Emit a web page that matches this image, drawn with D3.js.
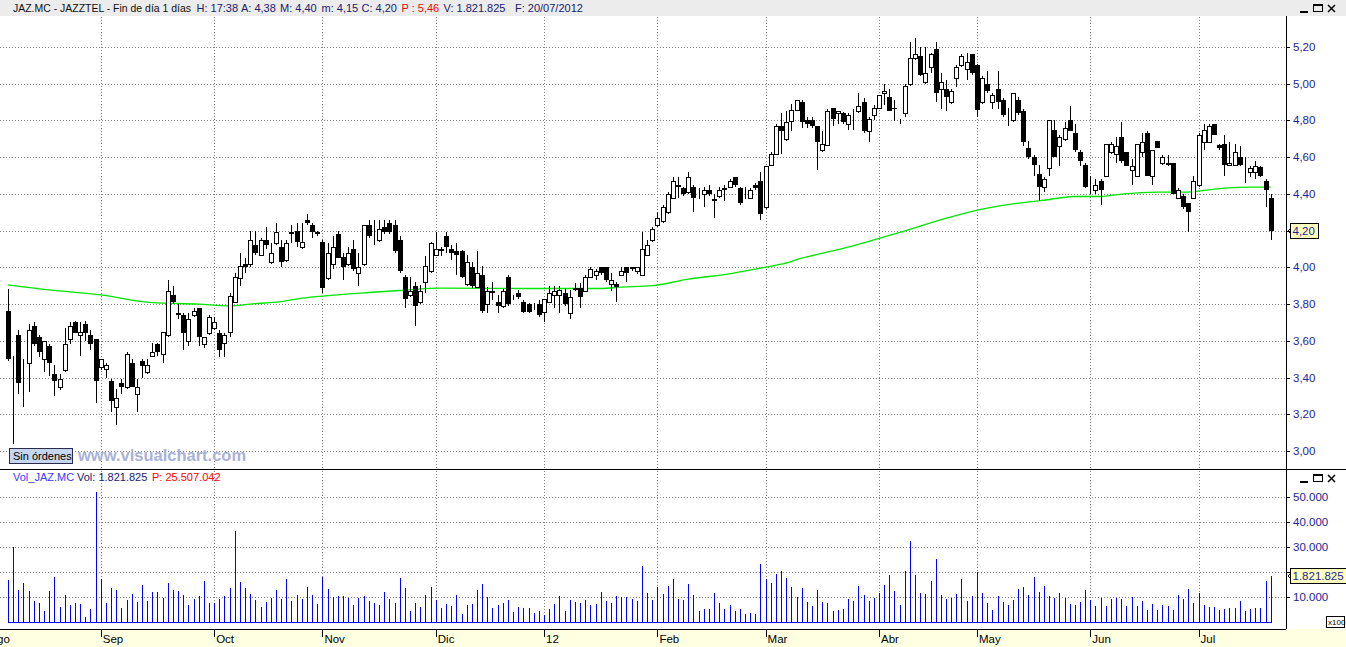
<!DOCTYPE html>
<html>
<head>
<meta charset="utf-8">
<script src="https://cdn.jsdelivr.net/npm/d3@7"></script>
<style>
  body { margin: 0; background: #fff; overflow: hidden; }
  svg { display: block; font-family: "Liberation Sans", Arial, sans-serif; }
</style>
</head>
<body>
<svg id="chart"></svg>
<script>
var svgWidth = 1346;
var svgHeight = 647;

// ---------- data ----------
var opens = [
  3.76,3.50,3.63,3.43,3.48,3.68,3.62,3.50,3.57,3.42,
  3.35,3.44,3.61,3.70,3.63,3.69,3.63,3.61,3.46,3.445,
  3.38,3.24,3.37,3.35,3.48,3.31,3.49,3.43,3.52,3.58,
  3.53,3.63,3.85,3.75,3.74,3.60,3.74,3.78,3.58,3.64,
  3.67,3.64,3.59,3.65,3.81,3.94,4.02,4.02,4.12,4.07,
  4.15,4.03,4.13,4.11,4.04,4.19,4.20,4.11,4.26,4.23,
  4.19,4.14,3.94,4.02,4.18,4.055,4.02,4.10,3.97,4.02,
  4.23,4.15,4.15,4.22,4.24,4.23,4.15,3.95,3.85,3.90,
  3.81,3.92,3.98,4.07,4.10,4.17,4.10,4.09,4.09,3.91,
  4.00,3.895,3.96,3.80,3.87,3.81,3.79,3.95,3.84,3.86,
  3.81,3.80,3.78,3.80,3.755,3.81,3.85,3.85,3.86,3.75,
  3.89,3.89,3.87,3.945,3.96,4.00,4.00,3.91,3.91,3.96,
  4.00,4.00,3.98,3.96,4.07,4.15,4.23,4.25,4.30,4.38,
  4.45,4.43,4.41,4.44,4.40,4.40,4.42,4.37,4.39,4.43,
  4.44,4.49,4.43,4.38,4.38,4.45,4.47,4.33,4.56,4.62,
  4.77,4.70,4.795,4.855,4.90,4.80,4.80,4.77,4.64,4.665,
  4.87,4.84,4.84,4.78,4.845,4.85,4.90,4.74,4.83,4.87,
  4.95,4.93,4.87,4.80,4.84,5.00,5.14,5.15,5.01,5.09,
  5.19,4.97,4.97,4.90,5.03,5.10,5.08,5.16,5.10,4.90,
  5.00,4.90,4.97,4.91,4.855,4.80,4.91,4.85,4.65,4.60,
  4.51,4.44,4.54,4.75,4.66,4.70,4.80,4.73,4.63,4.56,
  4.47,4.42,4.47,4.495,4.63,4.62,4.71,4.63,4.53,4.50,
  4.63,4.73,4.50,4.69,4.57,4.57,4.57,4.38,4.39,4.35,
  4.38,4.45,4.68,4.685,4.78,4.665,4.67,4.56,4.56,4.60,
  4.56,4.52,4.52,4.545,4.47,4.38
];
var highs = [
  3.88,3.52,3.66,3.50,3.69,3.70,3.63,3.60,3.58,3.47,
  3.42,3.67,3.70,3.71,3.70,3.71,3.66,3.61,3.50,3.48,
  3.39,3.34,3.39,3.54,3.50,3.39,3.50,3.50,3.59,3.59,
  3.65,3.93,3.90,3.80,3.75,3.75,3.78,3.78,3.62,3.74,
  3.73,3.66,3.64,3.86,3.97,4.08,4.05,4.20,4.20,4.16,
  4.22,4.13,4.24,4.15,4.15,4.23,4.24,4.24,4.29,4.24,
  4.20,4.15,4.13,4.17,4.20,4.08,4.11,4.15,4.08,4.23,
  4.26,4.26,4.26,4.26,4.26,4.26,4.17,3.96,3.95,3.92,
  3.905,4.06,4.14,4.19,4.11,4.19,4.12,4.13,4.095,4.07,
  4.03,4.09,4.01,3.895,3.92,3.85,3.88,3.96,3.85,3.875,
  3.82,3.805,3.805,3.82,3.83,3.90,3.90,3.90,3.89,3.875,
  3.915,3.915,3.96,4.00,3.99,4.00,4.00,3.97,3.92,4.00,
  4.00,4.00,4.00,4.19,4.15,4.22,4.30,4.34,4.41,4.49,
  4.49,4.44,4.52,4.45,4.43,4.44,4.45,4.40,4.44,4.45,
  4.48,4.49,4.44,4.44,4.43,4.46,4.52,4.55,4.63,4.78,
  4.84,4.85,4.89,4.91,4.91,4.82,4.82,4.77,4.74,4.86,
  4.87,4.85,4.845,4.84,4.86,4.95,4.92,4.82,4.885,4.94,
  5.00,4.97,4.91,4.81,5.00,5.225,5.25,5.20,5.20,5.17,
  5.225,5.06,5.02,4.97,5.10,5.16,5.17,5.16,5.11,5.04,
  5.07,4.95,5.07,4.92,4.87,4.95,4.93,4.86,4.69,4.61,
  4.555,4.49,4.80,4.80,4.72,4.79,4.88,4.78,4.64,4.57,
  4.50,4.48,4.48,4.67,4.685,4.71,4.79,4.63,4.59,4.67,
  4.73,4.745,4.64,4.69,4.61,4.61,4.57,4.43,4.40,4.35,
  4.495,4.73,4.78,4.78,4.78,4.67,4.72,4.68,4.67,4.66,
  4.60,4.55,4.58,4.55,4.48,4.40
];
var lows = [
  3.49,3.04,3.31,3.24,3.32,3.57,3.51,3.43,3.41,3.30,
  3.33,3.43,3.58,3.64,3.52,3.60,3.55,3.26,3.44,3.40,
  3.21,3.14,3.31,3.34,3.35,3.21,3.40,3.42,3.51,3.52,
  3.48,3.62,3.80,3.72,3.55,3.57,3.73,3.57,3.56,3.63,
  3.66,3.51,3.51,3.62,3.81,3.90,3.97,4.00,4.07,4.06,
  4.10,4.02,4.12,4.00,4.03,4.13,4.11,4.10,4.23,4.16,
  4.17,3.86,3.93,3.99,4.05,3.93,4.01,3.98,3.90,4.01,
  4.16,4.12,4.14,4.18,4.18,4.08,3.97,3.78,3.84,3.68,
  3.80,3.86,3.97,4.06,4.06,4.08,4.04,3.96,3.94,3.90,
  3.89,3.89,3.75,3.75,3.82,3.75,3.78,3.79,3.82,3.83,
  3.75,3.75,3.77,3.73,3.705,3.805,3.78,3.75,3.79,3.72,
  3.87,3.78,3.87,3.94,3.93,3.96,3.92,3.87,3.81,3.955,
  3.92,3.98,3.965,3.955,4.06,4.14,4.22,4.24,4.29,4.37,
  4.38,4.39,4.40,4.30,4.37,4.33,4.39,4.27,4.38,4.36,
  4.43,4.44,4.34,4.37,4.37,4.42,4.26,4.32,4.55,4.61,
  4.62,4.69,4.745,4.85,4.76,4.76,4.76,4.53,4.63,4.66,
  4.77,4.78,4.78,4.75,4.75,4.84,4.73,4.68,4.80,4.86,
  4.885,4.85,4.795,4.78,4.82,4.985,5.13,5.04,5.00,5.06,
  4.90,4.86,4.85,4.89,4.98,5.09,5.02,5.05,4.82,4.89,
  4.95,4.86,4.86,4.82,4.77,4.79,4.83,4.66,4.59,4.50,
  4.36,4.41,4.495,4.60,4.55,4.69,4.74,4.63,4.55,4.43,
  4.40,4.40,4.34,4.49,4.62,4.57,4.57,4.55,4.45,4.49,
  4.60,4.50,4.45,4.65,4.56,4.55,4.40,4.37,4.32,4.195,
  4.37,4.44,4.64,4.68,4.72,4.64,4.50,4.55,4.55,4.55,
  4.46,4.49,4.48,4.49,4.33,4.15
];
var closes = [
  3.50,3.50,3.37,3.43,3.66,3.58,3.54,3.60,3.48,3.38,
  3.39,3.58,3.68,3.645,3.65,3.64,3.58,3.38,3.50,3.47,
  3.27,3.29,3.35,3.53,3.35,3.35,3.465,3.47,3.54,3.54,
  3.65,3.87,3.81,3.74,3.64,3.72,3.76,3.62,3.62,3.73,
  3.70,3.55,3.63,3.845,3.95,4.01,4.00,4.15,4.08,4.15,
  4.12,4.08,4.19,4.03,4.13,4.18,4.14,4.14,4.24,4.19,
  4.18,3.89,4.08,4.11,4.05,4.00,4.08,3.99,4.00,4.23,
  4.17,4.15,4.21,4.19,4.19,4.09,3.98,3.83,3.87,3.79,
  3.87,4.01,4.13,4.10,4.09,4.11,4.08,4.07,3.95,4.03,
  3.90,3.97,3.765,3.87,3.86,3.79,3.87,3.80,3.84,3.84,
  3.755,3.755,3.78,3.74,3.83,3.86,3.87,3.875,3.80,3.84,
  3.875,3.84,3.95,3.99,3.98,3.97,3.93,3.93,3.895,3.98,
  3.97,3.99,4.00,4.10,4.12,4.21,4.27,4.33,4.40,4.47,
  4.44,4.40,4.49,4.38,4.40,4.42,4.40,4.36,4.42,4.42,
  4.47,4.45,4.35,4.38,4.42,4.43,4.29,4.55,4.62,4.77,
  4.74,4.79,4.855,4.91,4.79,4.78,4.77,4.68,4.67,4.85,
  4.81,4.85,4.79,4.83,4.845,4.88,4.74,4.81,4.87,4.94,
  4.96,4.85,4.865,4.80,4.99,5.14,5.16,5.045,5.06,5.16,
  4.95,5.01,4.93,4.96,5.09,5.15,5.12,5.06,4.855,5.03,
  4.96,4.94,4.90,4.83,4.855,4.95,4.84,4.68,4.60,4.555,
  4.44,4.48,4.80,4.60,4.71,4.76,4.745,4.64,4.58,4.44,
  4.47,4.45,4.42,4.67,4.67,4.66,4.58,4.55,4.55,4.67,
  4.68,4.50,4.64,4.65,4.60,4.56,4.40,4.42,4.33,4.30,
  4.47,4.72,4.75,4.77,4.72,4.65,4.56,4.57,4.63,4.56,
  4.56,4.54,4.55,4.495,4.42,4.20
];
// volume in axis units (x100)
var volumes = [
  16900,29900,12900,15600,12500,8500,7600,4500,12500,18100,
  6100,10800,6900,7600,7300,2100,5300,52100,17300,7600,
  13600,12900,5700,8900,11300,8100,14900,8500,12100,12100,
  9700,15600,12900,12500,10900,6800,9300,10300,16500,7600,
  7600,9200,10500,13600,36500,16100,13600,11300,8900,6100,
  8000,9700,12900,9300,17300,8500,10800,9300,14100,10800,
  7300,18000,13300,10000,10400,10400,9700,6900,9600,10400,
  8500,7700,6900,12100,9300,7700,17700,13700,4500,7600,
  6100,10900,14100,8900,5700,7300,6500,10900,3300,6900,
  7300,12900,15300,10000,5700,6900,7700,8900,4100,6100,
  5700,5700,3700,4500,2900,5300,7300,10500,4500,8900,
  8100,7700,8900,6900,7300,12100,8500,7700,10500,10000,
  10000,9300,8500,22500,11700,8900,14100,11300,14500,17100,
  9300,8900,15300,10900,4400,5200,5200,11700,7700,5200,
  6800,4400,5200,3200,3600,3200,23400,17300,15700,19300,
  20500,17700,14100,10100,13700,8100,6400,12900,8100,7700,
  4400,4800,5200,9300,8500,14500,10900,8500,9700,11700,
  14900,18900,12500,6800,20500,32600,18900,11700,11300,16500,
  25400,10900,9300,9700,11300,17300,8500,10500,20100,11700,
  7700,4800,10500,8100,6800,8900,13300,14100,10900,18100,
  12100,14500,10500,9700,11700,9700,7300,6800,8100,12900,
  8900,6400,9700,6400,9300,9700,9300,6400,10100,6400,
  8500,4800,7300,4800,6800,6400,4800,10900,9300,13300,
  7700,11700,6800,6000,6000,4800,5200,5600,5600,8500,
  4400,5200,5600,5600,16500,18218
];
// green moving average, read at a few bars
var maIndex = [0, 8, 18, 28, 37, 43, 47, 53, 57, 62, 70, 76, 84, 99, 115, 119, 125,
  132, 140, 146, 150, 154, 163, 173, 183, 190, 197, 200, 207, 212, 216, 223, 229, 233, 236, 241, 245];
var maValue = [3.905, 3.877, 3.850, 3.808, 3.800, 3.790, 3.800, 3.814, 3.832, 3.846, 3.863, 3.874, 3.887, 3.885, 3.885, 3.892, 3.900,
  3.936, 3.965, 3.996, 4.017, 4.050, 4.110, 4.190, 4.275, 4.322, 4.353, 4.362, 4.386, 4.386, 4.399, 4.410, 4.410, 4.422, 4.432, 4.437, 4.437];

var monthLabels = ["Ago", "Sep", "Oct", "Nov", "Dic", "12", "Feb", "Mar", "Abr", "May", "Jun", "Jul"];
var monthStart = [-4, 18, 40, 61, 83, 104, 126, 147, 169, 188, 210, 231];
var priceTicks = [3.0, 3.2, 3.4, 3.6, 3.8, 4.0, 4.2, 4.4, 4.6, 4.8, 5.0, 5.2];
var volTicks = [10000, 20000, 30000, 40000, 50000];
var volLabelTicks = [10000, 30000, 40000, 50000]; // 20.000 sits under the last-value box

// ---------- layout ----------
var plotRight = 1286;
var priceTop = 17, priceBottom = 469;
var volTop = 470, volBottom = 629;
var navy = "#1e1e9c";

var svg = d3.select("#chart")
  .attr("width", svgWidth)
  .attr("height", svgHeight);

var xScale = d3.scaleLinear().domain([0, 245]).range([8, 1270.7]);
var yScale = d3.scaleLinear().domain([3.0, 5.2]).range([451, 47]);
var vScale = d3.scaleLinear().domain([0, 50000]).range([622, 497]);

var px = function(i) { return Math.round(xScale(i)) + 0.5; };
var priceFmt = function(v) { return d3.format(".2f")(v).replace(".", ","); };
var volFmt = function(v) { return d3.format(",")(v).replace(/,/g, "."); };

// backgrounds
svg.append("rect").attr("width", svgWidth).attr("height", svgHeight).attr("fill", "#fff");
svg.append("rect").attr("x", 0).attr("y", 0).attr("width", svgWidth).attr("height", 16).attr("fill", "#ececec");
svg.append("rect").attr("x", 0).attr("y", volBottom).attr("width", svgWidth).attr("height", svgHeight - volBottom).attr("fill", "#ffffe1");

// ---------- grid ----------
var grid = svg.append("g")
  .attr("stroke", "#808080")
  .attr("stroke-dasharray", "1,2")
  .attr("shape-rendering", "crispEdges");

grid.selectAll(".hp").data(priceTicks).enter().append("line")
  .attr("x1", 0).attr("x2", plotRight)
  .attr("y1", d => Math.round(yScale(d)) + 0.5)
  .attr("y2", d => Math.round(yScale(d)) + 0.5);

grid.selectAll(".hv").data(volTicks).enter().append("line")
  .attr("x1", 0).attr("x2", plotRight)
  .attr("y1", d => Math.round(vScale(d)) + 0.5)
  .attr("y2", d => Math.round(vScale(d)) + 0.5);

var monthsShown = monthStart.filter(d => d >= 0);
grid.selectAll(".vp").data(monthsShown).enter().append("line")
  .attr("x1", d => px(d)).attr("x2", d => px(d))
  .attr("y1", priceTop).attr("y2", priceBottom);
grid.selectAll(".vv").data(monthsShown).enter().append("line")
  .attr("x1", d => px(d)).attr("x2", d => px(d))
  .attr("y1", volTop + 1).attr("y2", 622);

// ---------- moving average ----------
var maLine = d3.line()
  .x(d => xScale(d[0]))
  .y(d => yScale(d[1]))
  .curve(d3.curveMonotoneX);

svg.append("path")
  .datum(maIndex.map((d, i) => [d, maValue[i]]))
  .attr("d", maLine)
  .attr("fill", "none")
  .attr("stroke", "#00e600")
  .attr("stroke-width", 1.3);

// ---------- candles ----------
var candles = svg.append("g").attr("shape-rendering", "crispEdges");
var bars = opens.map((o, i) => ({ i: i, o: o, h: highs[i], l: lows[i], c: closes[i] }));

candles.selectAll(".wick").data(bars).enter().append("line")
  .attr("x1", d => px(d.i)).attr("x2", d => px(d.i))
  .attr("y1", d => Math.round(yScale(d.h)))
  .attr("y2", d => Math.round(yScale(d.l)))
  .attr("stroke", "#000");

candles.selectAll(".body").data(bars).enter().append("rect")
  .attr("x", d => px(d.i) - (d.c >= d.o ? 2 : 2.5))
  .attr("y", d => Math.round(yScale(Math.max(d.o, d.c))) + (d.c >= d.o ? 0.5 : 0))
  .attr("width", d => d.c >= d.o ? 4 : 5)
  .attr("height", d => Math.max(Math.round(yScale(Math.min(d.o, d.c))) - Math.round(yScale(Math.max(d.o, d.c))), d.c >= d.o ? 0 : 1))
  .attr("fill", d => d.c >= d.o ? "#fff" : "#000")
  .attr("stroke", d => d.c >= d.o ? "#000" : "none");

// ---------- volume ----------
var vol = svg.append("g").attr("shape-rendering", "crispEdges").attr("stroke", "#0000ff");
vol.selectAll("line").data(volumes).enter().append("line")
  .attr("x1", (d, i) => px(i)).attr("x2", (d, i) => px(i))
  .attr("y1", 622).attr("y2", d => Math.round(vScale(d)));
vol.append("line")
  .attr("x1", px(0) - 1).attr("x2", px(245))
  .attr("y1", 622.5).attr("y2", 622.5);

// ---------- frame lines ----------
var frame = svg.append("g").attr("stroke", "#000").attr("shape-rendering", "crispEdges");
frame.append("line").attr("x1", 0).attr("x2", svgWidth).attr("y1", volTop - 0.5).attr("y2", volTop - 0.5);
frame.append("line").attr("x1", plotRight + 0.5).attr("x2", plotRight + 0.5).attr("y1", 16).attr("y2", volBottom);
frame.append("line").attr("x1", 0).attr("x2", plotRight).attr("y1", volBottom + 0.5).attr("y2", volBottom + 0.5);

// price axis
var pAxis = svg.append("g");
pAxis.selectAll("line").data(priceTicks).enter().append("line")
  .attr("x1", plotRight).attr("x2", plotRight + 4)
  .attr("y1", d => Math.round(yScale(d)) + 0.5).attr("y2", d => Math.round(yScale(d)) + 0.5)
  .attr("stroke", "#000").attr("shape-rendering", "crispEdges");
pAxis.selectAll("text").data(priceTicks).enter().append("text")
  .attr("x", 1293).attr("y", d => yScale(d) + 4)
  .attr("font-size", 11.5).attr("fill", navy)
  .text(priceFmt);

// volume axis
var vAxis = svg.append("g");
vAxis.selectAll("line").data(volTicks).enter().append("line")
  .attr("x1", plotRight).attr("x2", plotRight + 4)
  .attr("y1", d => Math.round(vScale(d)) + 0.5).attr("y2", d => Math.round(vScale(d)) + 0.5)
  .attr("stroke", "#000").attr("shape-rendering", "crispEdges");
vAxis.selectAll("text").data(volLabelTicks).enter().append("text")
  .attr("x", 1293).attr("y", d => vScale(d) + 4)
  .attr("font-size", 11.5).attr("fill", navy)
  .text(volFmt);

// last value markers
function marker(yPos, w, label) {
  var g = svg.append("g");
  g.append("rect").attr("x", 1290.5).attr("y", Math.round(yPos) - 7.5)
    .attr("width", w).attr("height", 15)
    .attr("fill", "#ffffc0").attr("stroke", "#000");
  g.append("path")
    .attr("d", `M${plotRight + 4},${Math.round(yPos) - 2} L${plotRight + 2},${Math.round(yPos)} L${plotRight + 4},${Math.round(yPos) + 2}`)
    .attr("fill", "none").attr("stroke", "#000");
  g.append("text").attr("x", 1292.5).attr("y", yPos + 4)
    .attr("font-size", 11.5).attr("fill", navy).text(label);
}
marker(yScale(closes[245]), 28, priceFmt(closes[245]));
marker(vScale(volumes[245]), 56, "1.821.825");

// x100 box
svg.append("rect").attr("x", 1326.5).attr("y", 616.5).attr("width", 18).attr("height", 11)
  .attr("fill", "#fff").attr("stroke", "#000");
svg.append("text").attr("x", 1328).attr("y", 625).attr("font-size", 8).text("x100");

// ---------- date axis ----------
var dAxis = svg.append("g");
dAxis.selectAll("line").data(monthStart).enter().append("line")
  .attr("x1", d => px(d)).attr("x2", d => px(d))
  .attr("y1", volBottom).attr("y2", volBottom + 8)
  .attr("stroke", "#000").attr("shape-rendering", "crispEdges");
dAxis.selectAll("text").data(monthStart).enter().append("text")
  .attr("x", d => xScale(d) + 2).attr("y", 643)
  .attr("font-size", 11.5).attr("fill", "#000")
  .text((d, i) => monthLabels[i]);

// ---------- titles ----------
var header = [
  { x: 13, t: "JAZ.MC - JAZZTEL - Fin de día 1 días", c: "#101010", w: 178 },
  { x: 196.5, t: "H: 17:38", c: "#20206e" },
  { x: 241, t: "A: 4,38", c: "#20206e" },
  { x: 280, t: "M: 4,40", c: "#20206e" },
  { x: 321.5, t: "m: 4,15", c: "#20206e" },
  { x: 361.5, t: "C: 4,20", c: "#20206e" },
  { x: 401.5, t: "P : 5,46", c: "#ff0000" },
  { x: 443.5, t: "V: 1.821.825", c: "#20206e" },
  { x: 515, t: "F: 20/07/2012", c: "#20206e" }
];
svg.selectAll(".hdr").data(header).enter().append("text")
  .attr("x", d => d.x).attr("y", 12)
  .attr("font-size", 11).attr("fill", d => d.c)
  .each(function(d) {
    if (d.w) d3.select(this).attr("textLength", d.w).attr("lengthAdjust", "spacingAndGlyphs");
  })
  .text(d => d.t);

var volHeader = [
  { x: 13, t: "Vol_JAZ.MC", c: "#3a3aff" },
  { x: 77, t: "Vol: 1.821.825", c: "#20206e" },
  { x: 152, t: "P: 25.507.042", c: "#ff0000" }
];
svg.selectAll(".vhdr").data(volHeader).enter().append("text")
  .attr("x", d => d.x).attr("y", 481)
  .attr("font-size", 11).attr("fill", d => d.c)
  .text(d => d.t);

// window buttons
function winButtons(top) {
  var g = svg.append("g").attr("stroke", "#000").attr("fill", "none").attr("shape-rendering", "crispEdges");
  g.append("line").attr("x1", 1300).attr("x2", 1308).attr("y1", top + 8.5).attr("y2", top + 8.5).attr("stroke-width", 2);
  g.append("rect").attr("x", 1313.5).attr("y", top + 1.5).attr("width", 9).attr("height", 7);
  g.append("line").attr("x1", 1313.5).attr("x2", 1322.5).attr("y1", top + 2.5).attr("y2", top + 2.5);
  g.append("path").attr("d", `M1328,${top + 2} L1335,${top + 9} M1335,${top + 2} L1328,${top + 9}`)
    .attr("stroke-width", 1.5).attr("shape-rendering", "auto");
}
winButtons(3);
winButtons(473);

// ---------- "Sin órdenes" + watermark ----------
svg.append("rect").attr("x", 9.5).attr("y", 448.5).attr("width", 63).attr("height", 15)
  .attr("fill", "#c6d6ef").attr("stroke", "#2a2a4a");
svg.append("text").attr("x", 13).attr("y", 460).attr("font-size", 11).attr("fill", "#000").text("Sin órdenes");
svg.append("text").attr("x", 78).attr("y", 461)
  .attr("font-size", 16.5).attr("font-weight", "bold").attr("fill", "#a9b2d8")
  .text("www.visualchart.com");
</script>
</body>
</html>
